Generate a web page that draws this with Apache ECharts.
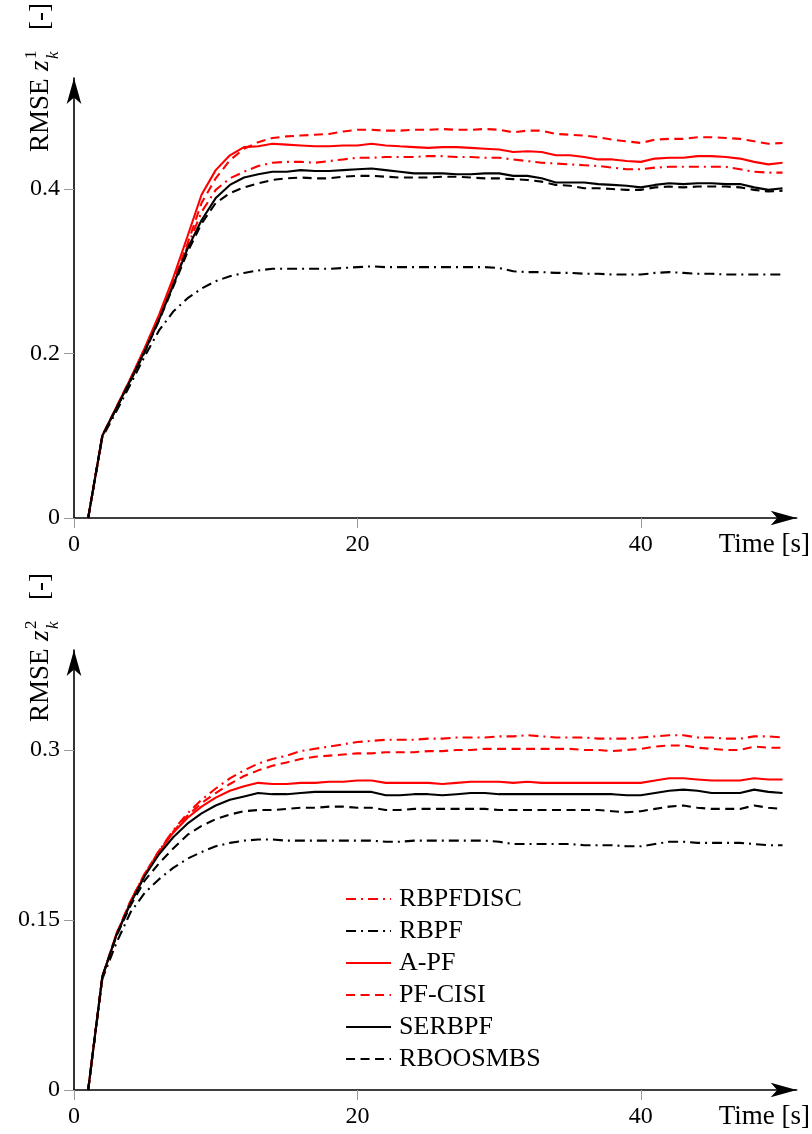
<!DOCTYPE html>
<html>
<head>
<meta charset="utf-8">
<script src="https://cdn.jsdelivr.net/npm/echarts@6/dist/echarts.min.js"></script>
<style>
  html, body { margin: 0; padding: 0; background: #fff; }
  #chart { width: 812px; height: 1134px; }
</style>
</head>
<body>
<div id="chart"></div>
<script>
// Time stamps [s]
const time = [1,2,3,4,5,6,7,8,9,10,11,12,13,14,15,16,17,18,19,20,21,22,23,24,25,26,27,28,29,30,31,32,33,34,35,36,37,38,39,40,41,42,43,44,45,46,47,48,49,50];

// Series names in legend order
const seriesNames = ['RBPFDISC', 'RBPF', 'A-PF', 'PF-CISI', 'SERBPF', 'RBOOSMBS'];

// RMSE of z_k^1
const z1_RBPFDISC = [0,0.100,0.134,0.168,0.204,0.243,0.284,0.330,0.372,0.399,0.413,0.421,0.428,0.432,0.433,0.433,0.432,0.434,0.436,0.438,0.438,0.439,0.439,0.439,0.440,0.440,0.439,0.439,0.438,0.438,0.436,0.434,0.432,0.431,0.430,0.429,0.428,0.426,0.424,0.424,0.426,0.427,0.427,0.427,0.427,0.427,0.424,0.421,0.420,0.420];
const z1_RBPF     = [0,0.098,0.130,0.163,0.197,0.228,0.251,0.267,0.279,0.288,0.294,0.298,0.301,0.303,0.303,0.303,0.303,0.303,0.304,0.305,0.306,0.305,0.305,0.305,0.305,0.305,0.305,0.305,0.305,0.304,0.300,0.299,0.299,0.298,0.298,0.297,0.297,0.296,0.296,0.296,0.298,0.299,0.298,0.297,0.297,0.296,0.296,0.296,0.296,0.296];
const z1_APF      = [0,0.100,0.135,0.170,0.207,0.247,0.292,0.342,0.393,0.423,0.441,0.451,0.452,0.455,0.454,0.453,0.452,0.452,0.453,0.453,0.455,0.453,0.452,0.451,0.450,0.451,0.451,0.450,0.449,0.448,0.445,0.446,0.445,0.441,0.441,0.439,0.436,0.436,0.434,0.433,0.437,0.438,0.438,0.440,0.440,0.439,0.437,0.433,0.430,0.432];
const z1_PFCISI   = [0,0.100,0.135,0.170,0.206,0.245,0.287,0.333,0.383,0.413,0.435,0.449,0.457,0.462,0.464,0.465,0.466,0.467,0.470,0.472,0.472,0.471,0.471,0.472,0.472,0.473,0.472,0.472,0.473,0.472,0.469,0.471,0.471,0.467,0.466,0.465,0.463,0.460,0.458,0.456,0.460,0.461,0.461,0.463,0.463,0.462,0.461,0.458,0.455,0.456];
const z1_SERBPF   = [0,0.100,0.134,0.168,0.203,0.241,0.283,0.327,0.362,0.389,0.405,0.414,0.418,0.421,0.421,0.423,0.422,0.422,0.423,0.424,0.425,0.423,0.421,0.419,0.419,0.419,0.418,0.418,0.419,0.419,0.416,0.416,0.413,0.408,0.408,0.408,0.406,0.405,0.404,0.402,0.405,0.407,0.406,0.407,0.407,0.406,0.406,0.402,0.399,0.401];
const z1_RBOOSMBS = [0,0.100,0.133,0.167,0.202,0.240,0.281,0.323,0.358,0.383,0.395,0.402,0.407,0.411,0.413,0.414,0.413,0.413,0.415,0.416,0.416,0.415,0.414,0.414,0.414,0.415,0.415,0.414,0.413,0.413,0.412,0.411,0.409,0.405,0.404,0.401,0.401,0.400,0.399,0.399,0.402,0.403,0.402,0.403,0.403,0.403,0.402,0.399,0.397,0.398];

// RMSE of z_k^2
const z2_RBPFDISC = [0,0.100,0.138,0.167,0.191,0.211,0.229,0.244,0.256,0.266,0.275,0.282,0.288,0.292,0.295,0.299,0.301,0.303,0.305,0.307,0.308,0.309,0.309,0.309,0.310,0.310,0.311,0.311,0.311,0.312,0.312,0.313,0.312,0.311,0.311,0.311,0.310,0.310,0.310,0.311,0.312,0.313,0.313,0.311,0.311,0.310,0.310,0.312,0.312,0.311];
const z2_RBPF     = [0,0.098,0.130,0.157,0.174,0.186,0.196,0.204,0.210,0.215,0.218,0.220,0.221,0.221,0.220,0.220,0.220,0.220,0.220,0.220,0.220,0.219,0.219,0.220,0.220,0.220,0.220,0.220,0.220,0.219,0.217,0.217,0.217,0.217,0.217,0.216,0.216,0.216,0.215,0.215,0.217,0.219,0.219,0.218,0.218,0.218,0.218,0.217,0.216,0.216];
const z2_APF      = [0,0.100,0.137,0.166,0.190,0.210,0.227,0.240,0.250,0.258,0.264,0.268,0.271,0.270,0.270,0.271,0.271,0.272,0.272,0.273,0.273,0.271,0.271,0.271,0.271,0.270,0.271,0.272,0.272,0.272,0.271,0.272,0.271,0.271,0.271,0.271,0.271,0.271,0.271,0.271,0.273,0.275,0.275,0.274,0.273,0.273,0.273,0.275,0.274,0.274];
const z2_PFCISI   = [0,0.100,0.138,0.167,0.191,0.211,0.228,0.242,0.253,0.262,0.270,0.277,0.282,0.286,0.289,0.292,0.294,0.295,0.296,0.297,0.297,0.298,0.298,0.298,0.299,0.299,0.300,0.300,0.301,0.301,0.301,0.301,0.301,0.301,0.301,0.300,0.300,0.299,0.300,0.301,0.303,0.304,0.304,0.302,0.301,0.300,0.300,0.303,0.302,0.302];
const z2_SERBPF   = [0,0.100,0.137,0.165,0.189,0.208,0.223,0.235,0.244,0.251,0.256,0.259,0.262,0.261,0.261,0.262,0.263,0.263,0.263,0.263,0.263,0.260,0.260,0.261,0.261,0.260,0.261,0.262,0.262,0.261,0.261,0.261,0.261,0.261,0.261,0.261,0.261,0.261,0.260,0.260,0.262,0.264,0.265,0.264,0.262,0.262,0.262,0.265,0.263,0.262];
const z2_RBOOSMBS = [0,0.100,0.136,0.163,0.185,0.200,0.213,0.225,0.233,0.239,0.243,0.246,0.247,0.247,0.248,0.249,0.249,0.250,0.250,0.249,0.249,0.247,0.247,0.248,0.248,0.248,0.248,0.248,0.248,0.247,0.247,0.247,0.247,0.247,0.247,0.247,0.247,0.246,0.245,0.246,0.248,0.250,0.251,0.249,0.248,0.248,0.248,0.251,0.249,0.248];

// Tick labels
const xTicks = [0, 20, 40];
const y1Ticks = [0, 0.2, 0.4];
const y2Ticks = [0, 0.15, 0.3];

const FONT = 'Liberation Serif';
const RED = '#ff0000';
const BLACK = '#000000';
const DASHED = [9, 5.5];
const DASHDOT = [10, 5, 2, 5];

const styles = {
  'RBPFDISC': { color: RED,   type: DASHDOT },
  'RBPF':     { color: BLACK, type: DASHDOT },
  'A-PF':     { color: RED,   type: 'solid' },
  'PF-CISI':  { color: RED,   type: DASHED },
  'SERBPF':   { color: BLACK, type: 'solid' },
  'RBOOSMBS': { color: BLACK, type: DASHED }
};

const panel1 = { 'RBPFDISC': z1_RBPFDISC, 'RBPF': z1_RBPF, 'A-PF': z1_APF, 'PF-CISI': z1_PFCISI, 'SERBPF': z1_SERBPF, 'RBOOSMBS': z1_RBOOSMBS };
const panel2 = { 'RBPFDISC': z2_RBPFDISC, 'RBPF': z2_RBPF, 'A-PF': z2_APF, 'PF-CISI': z2_PFCISI, 'SERBPF': z2_SERBPF, 'RBOOSMBS': z2_RBOOSMBS };

function makeSeries(panel, idx) {
  return seriesNames.map(name => ({
    name: name,
    type: 'line',
    xAxisIndex: idx,
    yAxisIndex: idx,
    data: time.map((t, i) => [t, panel[name][i]]),
    showSymbol: false,
    symbol: 'none',
    animation: false,
    lineStyle: { color: styles[name].color, width: 2.1, type: styles[name].type },
    itemStyle: { color: styles[name].color }
  }));
}

function xAxisDef(gridIndex) {
  return {
    type: 'value', gridIndex: gridIndex, min: 0, max: 51,
    axisLine: { show: true, onZero: false, symbol: ['none', 'arrow'], symbolSize: [11, 26],
      lineStyle: { color: BLACK, width: 1.6 } },
    axisTick: { show: true, inside: false, length: 10, customValues: xTicks,
      lineStyle: { color: '#999', width: 1 } },
    axisLabel: { show: true, customValues: xTicks, margin: 15, color: BLACK,
      fontFamily: FONT, fontSize: 24 },
    splitLine: { show: false }
  };
}

function yAxisDef(gridIndex, max, ticks) {
  return {
    type: 'value', gridIndex: gridIndex, min: 0, max: max,
    axisLine: { show: true, onZero: false, symbol: ['none', 'arrow'], symbolSize: [11, 26],
      lineStyle: { color: BLACK, width: 1.6 } },
    axisTick: { show: true, inside: false, length: 10, customValues: ticks,
      lineStyle: { color: '#999', width: 1 } },
    axisLabel: { show: true, customValues: ticks, margin: 14, color: BLACK,
      fontFamily: FONT, fontSize: 24 },
    splitLine: { show: false }
  };
}

// Vertical axis title "RMSE z_k^n [-]" drawn bottom-to-top
function yTitle(x, y, sup) {
  const big = '27px "' + FONT + '"';
  const bigIt = 'italic 27px "' + FONT + '"';
  const small = '17px "' + FONT + '"';
  const smallIt = 'italic 17px "' + FONT + '"';
  const t = (text, px, py, font) => ({
    type: 'text', x: px, y: py,
    style: { text: text, font: font, fill: BLACK, align: 'left', verticalAlign: 'middle' }
  });
  return {
    type: 'group', x: x, y: y, rotation: Math.PI / 2,
    children: [
      t('RMSE', 0, -9, big),
      t('z', 81, -9, bigIt),
      t(sup, 93, -18, small),
      t('k', 93, 4, smallIt),
      t('[-]', 122, -9, big)
    ]
  };
}

function xTitle(y) {
  return {
    type: 'text', x: 810, y: y,
    style: { text: 'Time [s]', font: '27px "' + FONT + '"', fill: BLACK, align: 'right', verticalAlign: 'middle' }
  };
}

const chart = echarts.init(document.getElementById('chart'), null, { renderer: 'canvas' });
chart.setOption({
  backgroundColor: '#ffffff',
  animation: false,
  grid: [
    { left: 74, top: 78, width: 722.7, height: 440 },
    { left: 74, top: 650, width: 722.7, height: 440 }
  ],
  xAxis: [xAxisDef(0), xAxisDef(1)],
  yAxis: [yAxisDef(0, 0.535, y1Ticks), yAxisDef(1, 0.3882, y2Ticks)],
  legend: {
    data: seriesNames,
    orient: 'vertical',
    left: 345, top: 886,
    padding: 0,
    itemWidth: 45, itemHeight: 14, itemGap: 6,
    itemStyle: { opacity: 0 },
    lineStyle: { width: 2.1 },
    textStyle: { fontFamily: FONT, fontSize: 26, color: BLACK, lineHeight: 25, padding: [0, 0, 0, 3] }
  },
  graphic: [
    yTitle(50, 152, '1'),
    yTitle(50, 722, '2'),
    xTitle(545),
    xTitle(1117)
  ],
  series: makeSeries(panel1, 0).concat(makeSeries(panel2, 1))
});
</script>
</body>
</html>
